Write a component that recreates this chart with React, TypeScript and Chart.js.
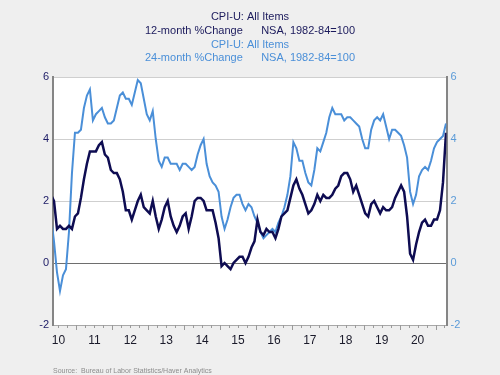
import React, { useEffect, useRef } from "react";
import { Chart, registerables } from "chart.js";

Chart.register(...registerables);

// Monthly data, April 2010 .. April 2021
const START_YEAR = 2010;
const START_MONTH = 4;

const cpi12m = [
  2.2, 2.0, 1.1, 1.2, 1.1, 1.1, 1.2, 1.1, 1.5,
  1.6, 2.1, 2.7, 3.2, 3.6, 3.6, 3.6, 3.8, 3.9, 3.5, 3.4, 3.0,
  2.9, 2.9, 2.7, 2.3, 1.7, 1.7, 1.4, 1.7, 2.0, 2.2, 1.8, 1.7,
  1.6, 2.0, 1.5, 1.1, 1.4, 1.8, 2.0, 1.5, 1.2, 1.0, 1.2, 1.5,
  1.6, 1.1, 1.5, 2.0, 2.1, 2.1, 2.0, 1.7, 1.7, 1.7, 1.3, 0.8,
  -0.1, 0.0, -0.1, -0.2, 0.0, 0.1, 0.2, 0.2, 0.0, 0.2, 0.5, 0.7,
  1.4, 1.0, 0.9, 1.1, 1.0, 1.0, 0.8, 1.1, 1.5, 1.6, 1.7, 2.1,
  2.5, 2.7, 2.4, 2.2, 1.9, 1.6, 1.7, 1.9, 2.2, 2.0, 2.2, 2.1,
  2.1, 2.2, 2.4, 2.5, 2.8, 2.9, 2.9, 2.7, 2.3, 2.5, 2.2, 1.9,
  1.6, 1.5, 1.9, 2.0, 1.8, 1.6, 1.8, 1.7, 1.7, 1.8, 2.1, 2.3,
  2.5, 2.3, 1.5, 0.3, 0.1, 0.6, 1.0, 1.3, 1.4, 1.2, 1.2, 1.4,
  1.4, 1.7, 2.6, 4.2,
];

const cpi24m = [
  1.5, 0.7, -0.3, -0.9, -0.4, -0.2, 1.0, 2.9, 4.2,
  4.2, 4.3, 5.0, 5.4, 5.6, 4.6, 4.8, 4.9, 5.0, 4.7, 4.5, 4.5,
  4.6, 5.0, 5.4, 5.5, 5.3, 5.3, 5.1, 5.5, 5.9, 5.8, 5.3, 4.8,
  4.6, 4.9, 4.0, 3.3, 3.1, 3.4, 3.4, 3.2, 3.2, 3.2, 3.0, 3.2,
  3.2, 3.1, 3.0, 3.1, 3.5, 3.8, 4.0, 3.2, 2.8, 2.6, 2.5, 2.3,
  1.5, 1.1, 1.4, 1.8, 2.1, 2.2, 2.2, 1.9, 1.7, 1.9, 1.8, 1.5,
  1.3, 1.0, 0.8, 0.9, 1.0, 1.1, 1.0, 1.3, 1.5, 1.8, 2.2, 2.8,
  3.9, 3.7, 3.3, 3.3, 2.9, 2.6, 2.5, 3.0, 3.7, 3.6, 3.9, 4.2,
  4.7, 5.0, 4.8, 4.8, 4.8, 4.6, 4.7, 4.7, 4.6, 4.5, 4.4, 4.0,
  3.7, 3.7, 4.3, 4.6, 4.7, 4.6, 4.8, 4.4, 4.0, 4.3, 4.3, 4.2,
  4.1, 3.8, 3.4, 2.3, 1.9, 2.2, 2.8, 3.0, 3.1, 3.0, 3.3, 3.7,
  3.9, 4.0, 4.1, 4.5,
];

const yearLabels = ["10", "11", "12", "13", "14", "15", "16", "17", "18", "19", "20"];
const yTickValues = [-2, 0, 2, 4, 6];
const titleDark = ["CPI-U: All Items", "12-month %Change      NSA, 1982-84=100"];
const titleBlue = ["CPI-U: All Items", "24-month %Change      NSA, 1982-84=100"];
const sourceText = "Source:  Bureau of Labor Statistics/Haver Analytics";

const DARK = "#0e0c52";
const BLUE = "#4a8fd8";
const FONT = "Arial, 'Liberation Sans', sans-serif";

const monthX = (i: number) => START_YEAR + (START_MONTH - 1 + i + 0.5) / 12;
const X_MIN = 2010.347;
const X_MAX = 2021.306;

const bgPlugin = {
  id: "bgPlugin",
  beforeDraw(chart: any) {
    const { ctx, chartArea } = chart;
    ctx.save();
    ctx.fillStyle = "#efefef";
    ctx.fillRect(0, 0, chart.width, chart.height);
    ctx.fillStyle = "#ffffff";
    ctx.fillRect(chartArea.left, chartArea.top, chartArea.right - chartArea.left, chartArea.bottom - chartArea.top);
    ctx.restore();
  },
  afterDraw(chart: any) {
    const { ctx, chartArea } = chart;
    const xs = chart.scales.x;
    ctx.save();
    // x tick marks: quarterly minor, yearly major
    ctx.strokeStyle = "#9a9a9a";
    ctx.lineWidth = 1;
    const start = Math.ceil(X_MIN * 4) / 4;
    for (let q = start; q <= X_MAX + 1e-9; q += 0.25) {
      const isYear = Math.abs(q - Math.round(q)) < 1e-6;
      const x = Math.round(xs.getPixelForValue(q)) + 0.5;
      ctx.beginPath();
      ctx.moveTo(x, chartArea.bottom);
      ctx.lineTo(x, chartArea.bottom + (isYear ? 5 : 3));
      ctx.stroke();
    }
    // titles
    ctx.font = `11px ${FONT}`;
    ctx.textAlign = "center";
    ctx.textBaseline = "middle";
    ctx.fillStyle = "#1b1a5c";
    ctx.fillText(titleDark[0], 250, 17);
    ctx.fillText(titleDark[1], 250, 31);
    ctx.fillStyle = BLUE;
    ctx.fillText(titleBlue[0], 250, 45);
    ctx.fillText(titleBlue[1], 250, 58);
    // source
    ctx.font = `7px ${FONT}`;
    ctx.textAlign = "left";
    ctx.fillStyle = "#8c8c8c";
    ctx.fillText(sourceText, 53, 371);
    ctx.restore();
  },
};

export default function App() {
  const ref = useRef<HTMLCanvasElement | null>(null);

  useEffect(() => {
    if (!ref.current) return;
    const chart = new Chart(ref.current, {
      type: "line",
      data: {
        datasets: [
          {
            label: "12-month %Change",
            data: cpi12m.map((v, i) => ({ x: monthX(i), y: v })),
            borderColor: DARK,
            borderWidth: 2.5,
            pointRadius: 0,
            tension: 0,
            yAxisID: "y",
            clip: 0,
          },
          {
            label: "24-month %Change",
            data: cpi24m.map((v, i) => ({ x: monthX(i), y: v })),
            borderColor: BLUE,
            borderWidth: 2,
            pointRadius: 0,
            tension: 0,
            yAxisID: "y2",
            clip: 0,
          },
        ],
      },
      options: {
        responsive: false,
        animation: false,
        devicePixelRatio: 1,
        layout: { padding: { top: 77, left: 0, right: 0, bottom: 0 } },
        plugins: {
          legend: { display: false },
          title: { display: false },
          tooltip: { enabled: false },
        },
        scales: {
          x: {
            type: "linear",
            min: X_MIN,
            max: X_MAX,
            afterFit: (s: any) => {
              s.height = 50;
            },
            afterBuildTicks: (s: any) => {
              const t: any[] = [];
              yearLabels.forEach((_, k) => t.push({ value: START_YEAR + k + 0.5 }));
              s.ticks = t;
            },
            grid: { display: false },
            border: { display: true, color: "#a8a8a8", width: 1 },
            ticks: {
              autoSkip: false,
              maxRotation: 0,
              padding: 0,
              color: "#1a1a2a",
              font: { family: FONT, size: 12 },
              callback: (v: any) => {
                const k = Math.round(Number(v) - 0.5) - START_YEAR;
                return yearLabels[k] ?? "";
              },
            },
          },
          y: {
            position: "left",
            min: -2,
            max: 6,
            afterFit: (s: any) => {
              s.width = 53;
            },
            afterBuildTicks: (s: any) => {
              s.ticks = yTickValues.map((v) => ({ value: v }));
            },
            grid: {
              drawTicks: false,
              lineWidth: 1,
              color: (c: any) =>
                c.tick && c.tick.value === 0
                  ? "#6e6e6e"
                  : c.tick && c.tick.value === -2
                  ? "rgba(0,0,0,0)"
                  : "#cfcfcf",
            },
            border: { display: true, color: "#858585", width: 2 },
            ticks: {
              padding: 4,
              color: "#1c1b66",
              font: { family: FONT, size: 11 },
            },
          },
          y2: {
            position: "right",
            min: -2,
            max: 6,
            afterFit: (s: any) => {
              s.width = 53.5;
            },
            afterBuildTicks: (s: any) => {
              s.ticks = yTickValues.map((v) => ({ value: v }));
            },
            grid: { drawOnChartArea: false, drawTicks: false },
            border: { display: true, color: "#858585", width: 2 },
            ticks: {
              padding: 4,
              color: "#5b9bd8",
              font: { family: FONT, size: 11 },
            },
          },
        },
      },
      plugins: [bgPlugin],
    });
    return () => chart.destroy();
  }, []);

  return (
    <div
      style={{
        position: "absolute",
        left: 0,
        top: 0,
        width: 500,
        height: 375,
        background: "#efefef",
      }}
    >
      <canvas ref={ref} width={500} height={375} style={{ display: "block", width: 500, height: 375 }} />
    </div>
  );
}
